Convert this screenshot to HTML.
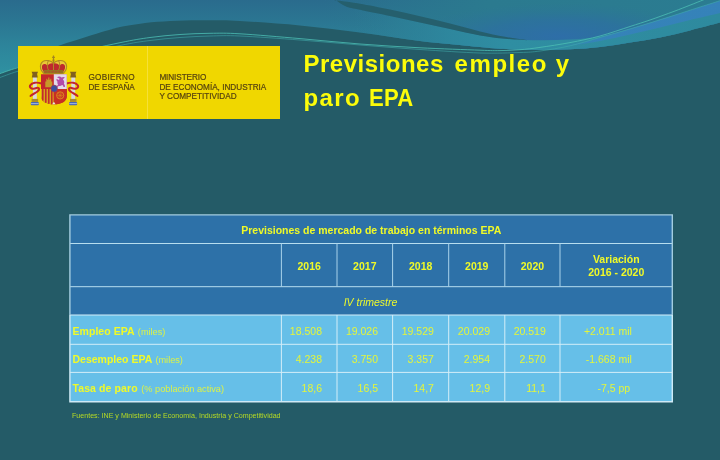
<!DOCTYPE html>
<html lang="es">
<head>
<meta charset="utf-8">
<title>Previsiones empleo y paro EPA</title>
<style>
html,body{margin:0;padding:0;}
body{width:720px;height:460px;overflow:hidden;background:#245b67;font-family:"Liberation Sans",sans-serif;}
#slide{position:relative;width:720px;height:460px;overflow:hidden;background:#245b67;}
#bg{position:absolute;left:0;top:0;width:720px;height:460px;display:block;}
.t{position:absolute;white-space:nowrap;margin:0;padding:0;line-height:1;}
/* logo */
#logo{position:absolute;left:18px;top:46px;width:262px;height:72.5px;background:#f0d700;}
#logo .div{position:absolute;left:129px;top:0;width:1px;height:72.5px;background:#f5e038;}
#logo .lt{position:absolute;white-space:nowrap;color:#57440f;font-size:8.2px;line-height:1;-webkit-text-stroke:0.2px #57440f;}
#arms{position:absolute;left:10px;top:8px;width:52px;height:54px;}
/* title */
h1{position:absolute;left:303.5px;top:46.8px;margin:0;font-size:24px;line-height:34px;font-weight:bold;color:#fcfc0a;white-space:nowrap;}
h1 .l1,h1 .l2{display:block;}
h1 .l1{word-spacing:4.1px;}
h1 .l2{word-spacing:1.4px;}
h1 .epa{display:inline-block;transform-origin:0 50%;transform:scaleX(0.92);letter-spacing:0.2px;}
/* table */
#tbl,#foot,h1,#logo{filter:blur(0.4px);}
#tbl{position:absolute;left:70px;top:215px;width:602.5px;height:187px;color:#e4f53a;font-size:10.5px;}
#tbl .c{position:absolute;white-space:nowrap;line-height:13px;}
#tbl .b{font-weight:bold;color:#f0fa28;}
#tbl .i{font-style:italic;color:#ecf82c;}
#tbl .s{font-size:9.2px;font-weight:normal;color:#dcf246;letter-spacing:0;margin-left:0.6px;}
#tbl .ctr{text-align:center;}
#tbl .r{text-align:right;}
#foot{position:absolute;left:72px;top:411.8px;font-size:7.1px;line-height:9px;color:#b6da24;white-space:nowrap;}
</style>
</head>
<body>
<div id="slide">
<svg id="bg" width="720" height="460" viewBox="0 0 720 460">
  <defs>
    <linearGradient id="gA" gradientUnits="userSpaceOnUse" x1="0" y1="0" x2="0" y2="72">
      <stop offset="0" stop-color="#2a6b8d"/>
      <stop offset="0.3" stop-color="#2b7692"/>
      <stop offset="0.65" stop-color="#2d859b"/>
      <stop offset="1" stop-color="#2f90a1"/>
    </linearGradient>
    <linearGradient id="gTeal" gradientUnits="userSpaceOnUse" x1="0" y1="0" x2="720" y2="0">
      <stop offset="0" stop-color="#2b7a8f" stop-opacity="0"/>
      <stop offset="0.45" stop-color="#2b7a8f" stop-opacity="0"/>
      <stop offset="0.68" stop-color="#2b7a8f" stop-opacity="1"/>
      <stop offset="1" stop-color="#2b7c91" stop-opacity="1"/>
    </linearGradient>
    <radialGradient id="gBlue" gradientUnits="userSpaceOnUse" cx="560" cy="36" r="100" gradientTransform="translate(560 36) scale(1.5 0.33) translate(-560 -36)">
      <stop offset="0" stop-color="#2e6ea8" stop-opacity="1"/>
      <stop offset="0.5" stop-color="#2d6fa2" stop-opacity="0.7"/>
      <stop offset="1" stop-color="#2c7497" stop-opacity="0"/>
    </radialGradient>
    <linearGradient id="gB" gradientUnits="userSpaceOnUse" x1="330" y1="0" x2="720" y2="0">
      <stop offset="0" stop-color="#2d8099" stop-opacity="0"/>
      <stop offset="0.06" stop-color="#2d8099" stop-opacity="0"/>
      <stop offset="0.3" stop-color="#2e889e" stop-opacity="0.9"/>
      <stop offset="0.45" stop-color="#2f8ea2" stop-opacity="1"/>
      <stop offset="1" stop-color="#2e8a9e" stop-opacity="1"/>
    </linearGradient>
    <linearGradient id="gS" gradientUnits="userSpaceOnUse" x1="545" y1="0" x2="720" y2="0">
      <stop offset="0" stop-color="#3583c0" stop-opacity="0"/>
      <stop offset="0.3" stop-color="#3780c0" stop-opacity="0.75"/>
      <stop offset="1" stop-color="#3780c0" stop-opacity="0.8"/>
    </linearGradient>
  </defs>
  <rect width="720" height="460" fill="#245b67"/>
  <g id="waves">
    <path fill="url(#gA)" d="M-10 -10H730V20L730 19.5C728.3 20 726.7 20.8 720 22.6C713.3 24.4 700 27.9 690 30.4C680 32.9 670 35.4 660 37.4C650 39.4 640 40.9 630 42.5C620 44.1 610 45.8 600 46.9C590 48 580 48.8 570 49.3C560 49.8 550 50 540 50C530 50 520 49.8 510 49.3C500 48.8 495 48.4 480 47C465 45.6 440 43.4 420 41C400 38.6 380 35.1 360 32.5C340 29.9 320 27.4 300 25.5C280 23.6 256.7 21.9 240 21C223.3 20.1 211.7 20.2 200 20.2C188.3 20.2 179.2 20.5 170 21C160.8 21.5 153.3 22 145 23C136.7 24 126 25.8 120 27C114 28.2 113.7 28.7 109 30C104.3 31.3 97.7 33.2 92 35C86.3 36.8 80.7 38.7 75 40.5C69.3 42.3 63.8 43.6 58 46C52.2 48.4 46.7 51.5 40 55C33.3 58.5 24.7 63.9 18 67C11.3 70.1 4.7 71.8 0 73.5C-4.7 75.2 -8.3 76.4 -10 77Z"/>
    <path fill="url(#gTeal)" d="M-10 -10H730V20L730 19.5C728.3 20 726.7 20.8 720 22.6C713.3 24.4 700 27.9 690 30.4C680 32.9 670 35.4 660 37.4C650 39.4 640 40.9 630 42.5C620 44.1 610 45.8 600 46.9C590 48 580 48.8 570 49.3C560 49.8 550 50 540 50C530 50 520 49.8 510 49.3C500 48.8 495 48.4 480 47C465 45.6 440 43.4 420 41C400 38.6 380 35.1 360 32.5C340 29.9 320 27.4 300 25.5C280 23.6 256.7 21.9 240 21C223.3 20.1 211.7 20.2 200 20.2C188.3 20.2 179.2 20.5 170 21C160.8 21.5 153.3 22 145 23C136.7 24 126 25.8 120 27C114 28.2 113.7 28.7 109 30C104.3 31.3 97.7 33.2 92 35C86.3 36.8 80.7 38.7 75 40.5C69.3 42.3 63.8 43.6 58 46C52.2 48.4 46.7 51.5 40 55C33.3 58.5 24.7 63.9 18 67C11.3 70.1 4.7 71.8 0 73.5C-4.7 75.2 -8.3 76.4 -10 77Z"/>
    <path fill="url(#gBlue)" d="M-10 -10H730V20L730 19.5C728.3 20 726.7 20.8 720 22.6C713.3 24.4 700 27.9 690 30.4C680 32.9 670 35.4 660 37.4C650 39.4 640 40.9 630 42.5C620 44.1 610 45.8 600 46.9C590 48 580 48.8 570 49.3C560 49.8 550 50 540 50C530 50 520 49.8 510 49.3C500 48.8 495 48.4 480 47C465 45.6 440 43.4 420 41C400 38.6 380 35.1 360 32.5C340 29.9 320 27.4 300 25.5C280 23.6 256.7 21.9 240 21C223.3 20.1 211.7 20.2 200 20.2C188.3 20.2 179.2 20.5 170 21C160.8 21.5 153.3 22 145 23C136.7 24 126 25.8 120 27C114 28.2 113.7 28.7 109 30C104.3 31.3 97.7 33.2 92 35C86.3 36.8 80.7 38.7 75 40.5C69.3 42.3 63.8 43.6 58 46C52.2 48.4 46.7 51.5 40 55C33.3 58.5 24.7 63.9 18 67C11.3 70.1 4.7 71.8 0 73.5C-4.7 75.2 -8.3 76.4 -10 77Z"/>
    <path fill="url(#gB)" d="M333 -2C335 -0.7 340.5 4 345 6C349.5 8 352.5 8.1 360 9.8C367.5 11.5 380 13.9 390 16C400 18.1 410 20.2 420 22.4C430 24.6 440 26.9 450 29C460 31.1 470 33.5 480 35.2C490 36.9 500 38.1 510 39C520 39.9 530 40.2 540 40.3C550 40.4 560 40.2 570 39.6C580 39 589.5 38.4 600 36.5C610.5 34.6 621.8 31.1 633 28C644.2 24.9 655.8 21.1 667 17.6C678.2 14.1 690.8 9.9 700 7C709.2 4.1 717 1.7 722 0C727 -1.7 728.7 -2.5 730 -3L730 19.5C728.3 20 726.7 20.8 720 22.6C713.3 24.4 700 27.9 690 30.4C680 32.9 670 35.4 660 37.4C650 39.4 640 40.9 630 42.5C620 44.1 610 45.8 600 46.9C590 48 580 48.8 570 49.3C560 49.8 550 50 540 50C530 50 520 49.8 510 49.3C500 48.8 495 48.4 480 47C465 45.6 440 43.4 420 41C400 38.6 380 35.1 360 32.5C340 29.9 310 26.7 300 25.5Z"/>
    <path fill="url(#gS)" d="M555 47C558.3 46.5 567.5 45.6 575 44C582.5 42.4 590.3 40.1 600 37.4C609.7 34.7 621.8 31.3 633 28C644.2 24.7 655.8 21.1 667 17.6C678.2 14.1 690.8 9.9 700 7C709.2 4.1 717 1.7 722 0C727 -1.7 728.7 -2.5 730 -3L730 10C728.3 10.5 726.7 11.3 720 13C713.3 14.7 700 17.6 690 20C680 22.4 670 25.1 660 27.5C650 29.9 640 32.2 630 34.5C620 36.8 609.2 39.2 600 41C590.8 42.8 582.5 44 575 45C567.5 46 558.3 46.7 555 47Z"/>
    <path fill="#255f6d" d="M320 -2C324.2 -1.4 338.3 0.6 345 1.6C351.7 2.6 352.5 2.5 360 3.8C367.5 5.1 380 7.5 390 9.6C400 11.7 410 13.9 420 16.2C430 18.5 440 21.1 450 23.6C460 26.1 470.8 29.2 480 31.4C489.2 33.6 496.7 35.3 505 36.8C513.3 38.3 525.8 39.9 530 40.5L530 40.5C525.8 40.2 513.3 39.6 505 38.8C496.7 37.9 489.2 37 480 35.4C470.8 33.8 460 31.2 450 29C440 26.8 430 24.6 420 22.4C410 20.2 400 18.1 390 16C380 13.9 367.5 11.5 360 9.8C352.5 8.1 349.5 8 345 6C340.5 4 335 -0.7 333 -2Z"/>
    <path fill="none" stroke="#4cbdb4" stroke-opacity="0.9" stroke-width="0.9" d="M-5 75C-4.2 74.8 -3.8 74.8 0 73.6C3.8 72.4 8 70.5 18 67.6C28 64.7 43 60.1 60 56C77 51.9 105 45.8 120 42.7C135 39.6 140 38.9 150 37.5C160 36.1 170 35.2 180 34.5C190 33.8 200 33.4 210 33.3C220 33.2 225 32.9 240 33.8C255 34.7 280 36.9 300 38.6C320 40.3 340 42.5 360 44C380 45.5 400 46.8 420 47.8C440 48.8 466.7 49.7 480 50.2C493.3 50.7 493.3 50.7 500 50.6C506.7 50.5 513.3 50.2 520 49.7C526.7 49.2 531.7 48.6 540 47.4C548.3 46.2 560 44.5 570 42.6C580 40.7 590 38.7 600 36C610 33.3 621.7 29.2 630 26.5C638.3 23.8 642.5 22.6 650 20C657.5 17.4 666.2 14.3 675 11C683.8 7.7 696.8 2.5 703 0C709.2 -2.5 710.5 -3.3 712 -4"/>
    <path fill="none" stroke="#41adac" stroke-opacity="0.7" stroke-width="0.8" d="M-5 79C-4.2 78.8 -3.8 78.8 0 77.5C3.8 76.2 8 74.3 18 71.2C28 68.1 43 63.3 60 59C77 54.7 105 48.6 120 45.5C135 42.4 140 41.8 150 40.5C160 39.2 170 38.2 180 37.5C190 36.8 200 36.2 210 36C220 35.8 225 35.3 240 36C255 36.7 280 38.5 300 40C320 41.5 340 43.4 360 45C380 46.6 400 48.2 420 49.5C440 50.8 463.3 52.5 480 53C496.7 53.5 510 52.8 520 52.5C530 52.2 531.7 52.1 540 51C548.3 49.9 560 48.1 570 45.8C580 43.5 589.5 40.4 600 37.4C610.5 34.4 621.8 31.3 633 28C644.2 24.7 655.8 21.1 667 17.6C678.2 14.1 690.8 9.9 700 7C709.2 4.1 717 1.7 722 0C727 -1.7 728.7 -2.5 730 -3"/>
  </g>
  <g id="tablebg">
    <rect x="70" y="215" width="602.5" height="100" fill="#2d71a8"/>
    <rect x="70" y="315" width="602.5" height="86.8" fill="#66bfe8"/>
    <g stroke="#a9d3ea" stroke-width="1" fill="none">
      <path stroke="#b7deef" d="M70 243.5H672.5M70 286.7H672.5"/>
      <path d="M281.4 243.5V286.7M337 243.5V286.7M392.6 243.5V286.7M448.7 243.5V286.7M504.8 243.5V286.7M560 243.5V286.7"/>
    </g>
    <g stroke="#d3eef8" stroke-width="1" fill="none">
      <path d="M70 315H672.5M70 344.3H672.5M70 372.4H672.5"/>
      <path d="M281.4 315V401.8M337 315V401.8M392.6 315V401.8M448.7 315V401.8M504.8 315V401.8M560 315V401.8"/>
    </g>
    <path d="M69.9 315V214.9H672.3V315" fill="none" stroke="#a3cde0" stroke-width="1.4"/>
    <path d="M69.9 315V401.7H672.3V315" fill="none" stroke="#cfeaf6" stroke-width="1.4"/>
  </g>
</svg>
<div id="logo">
  <div class="div"></div>
  <svg id="arms" viewBox="28 54 52 54" width="52" height="54" aria-label="Escudo de España">
    <!-- pillars -->
    <g>
      <rect x="32.9" y="77" width="3.9" height="22.4" fill="#d9d9de"/>
      <rect x="71.3" y="77" width="3.9" height="22.4" fill="#d9d9de"/>
      <path d="M31.6 71.8h6.4l-0.9 2.2 0.7 3.4h-6l0.7-3.4z" fill="#80611f"/>
      <path d="M70 71.8h6.4l-0.9 2.2 0.7 3.4h-6l0.7-3.4z" fill="#80611f"/>
      <rect x="31.6" y="98.9" width="6.5" height="3" fill="#a98c2c"/>
      <rect x="70" y="98.9" width="6.5" height="3" fill="#a98c2c"/>
      <rect x="30.8" y="101.9" width="8" height="3.4" rx="0.8" fill="#4a68b4"/>
      <rect x="69.1" y="101.9" width="8" height="3.4" rx="0.8" fill="#4a68b4"/>
      <path d="M31 103.6h7.6M69.3 103.6h7.6" stroke="#c9d6ee" stroke-width="0.7" fill="none"/>
    </g>
    <!-- ribbons -->
    <g fill="none" stroke="#c4262b" stroke-width="2" stroke-linecap="round">
      <path d="M41.5 83.5C37 82 32 82.5 30 85.5C29 88.5 33 89.5 36.5 88C39.5 87 40 89.5 37.5 91.5C35 93.5 31.5 94.5 30.5 96"/>
      <path d="M66.5 83.5C71 82 76 82.5 78 85.5C79 88.5 75 89.5 71.5 88C68.5 87 68 89.5 70.5 91.5C73 93.5 76.5 94.5 77.5 96"/>
    </g>
    <!-- crown -->
    <g>
      <path d="M43.8 73.6C41.2 70.8 39.7 67 40.8 64.2C42 61.3 45.4 60.2 48.3 60.6C50.4 60.9 52.3 61.8 53.5 63C54.7 61.8 56.6 60.9 58.7 60.6C61.6 60.2 65 61.3 66.2 64.2C67.3 67 65.8 70.8 63.2 73.6Z" fill="#e9c936"/>
      <path d="M44 72C42 69.6 41.2 67 42.4 65C43.6 63.4 46 63.6 47.6 65.6C49 63.6 51.5 62.8 53.5 63.4C55.5 62.8 58 63.6 59.4 65.6C61 63.6 63.4 63.4 64.6 65C65.8 67 65 69.6 63 72Z" fill="#bd2a2d"/>
      <path d="M43.8 73.6C41.2 70.8 39.7 67 40.8 64.2C42 61.3 45.4 60.2 48.3 60.6C50.4 60.9 52.3 61.8 53.5 63C54.7 61.8 56.6 60.9 58.7 60.6C61.6 60.2 65 61.3 66.2 64.2C67.3 67 65.8 70.8 63.2 73.6" fill="none" stroke="#b08a22" stroke-width="1.2"/>
      <path d="M53.5 62.5V70.5M48.3 60.8C46.8 63.8 47 67.5 48.6 70.5M58.7 60.8C60.2 63.8 60 67.5 58.4 70.5" fill="none" stroke="#b08a22" stroke-width="1"/>
      <rect x="43.6" y="69.9" width="19.8" height="3.8" rx="0.9" fill="#937222"/>
      <path d="M45 71.8H62" stroke="#c33a2c" stroke-width="0.9" stroke-dasharray="1.6 1.8" fill="none"/>
      <path d="M53.5 55.6V62.6M52.1 57.3H54.9" stroke="#a4851f" stroke-width="1.2" fill="none"/>
      <circle cx="53.5" cy="60.3" r="1.1" fill="#a4851f"/>
    </g>
    <!-- shield -->
    <g>
      <path d="M41 74.2H66.8V96C66.8 101.5 61.5 104.3 53.9 104.3C46.3 104.3 41 101.5 41 96Z" fill="#c3272c"/>
      <path d="M53.8 74.2H66.8V89H53.8Z" fill="#e3dbe9"/>
      <path d="M41 89H53.8V104.3C46.3 104.3 41 101.5 41 96Z" fill="#d8a51c"/>
      <path d="M42.8 89V100.6M45.8 89V102.8M48.8 89V103.8M51.8 89V104.2" stroke="#c3272c" stroke-width="1.5" fill="none"/>
      <path d="M53.8 89H66.8V96C66.8 101.5 61.5 104.3 53.9 104.3Z" fill="#c82f24"/>
      <circle cx="60.2" cy="95.4" r="3.6" fill="none" stroke="#d9861f" stroke-width="1"/>
      <path d="M56.6 95.4H63.8M60.2 91.8V99M57.7 92.9L62.7 97.9M62.7 92.9L57.7 97.9" stroke="#d9861f" stroke-width="0.6" fill="none"/>
      <!-- castle -->
      <path d="M45.3 87.2V81.5h1v-2.7h0.9v1h1v-2.2h1.2v2.2h1v-1h0.9v2.7h1v5.7z" fill="#c79a28"/>
      <!-- lion -->
      <path d="M57 77.2c1.5-1.2 3.5-1 4.6 0.3c1.2-0.9 2.7-0.8 3.4 0.3c-1.1 0.3-1.8 1-2 2c1.3 0.9 1.6 2.7 0.9 4.2c0.9 0.7 1.3 1.8 1 2.9h-1.5c0-0.9-0.5-1.5-1.3-1.8c-0.9 0.9-2.2 1.2-3.5 0.9c-0.3 0.6-0.9 0.9-1.7 0.9c0.1-1 0.5-1.8 1.2-2.3c-0.7-0.9-0.9-2-0.5-3.1c-0.9-0.5-1.3-1.5-1.1-2.6c0.8 0.1 1.4 0.5 1.8 1.1c0.4-0.5 0.9-0.9 1.5-1.1c-0.8-0.7-1.8-1.2-2.8-1.7z" fill="#b24aa8"/>
      <ellipse cx="54.2" cy="88.6" rx="3.3" ry="3.5" fill="#3c4f9f"/>
      <ellipse cx="54.2" cy="88.6" rx="3.3" ry="3.5" fill="none" stroke="#b23a4a" stroke-width="0.6"/>
      <path d="M52.3 104.2L53.9 101.8L55.5 104.2Z" fill="#e8e8e0"/>
    </g>
  </svg>
  <div class="lt" style="left:70.4px;top:28.3px;letter-spacing:0.3px">GOBIERNO</div>
  <div class="lt" style="left:70.4px;top:37.9px;letter-spacing:0.02px">DE ESPAÑA</div>
  <div class="lt" style="left:141.4px;top:28.3px;letter-spacing:-0.1px">MINISTERIO</div>
  <div class="lt" style="left:141.4px;top:37.7px;">DE ECONOMÍA, INDUSTRIA</div>
  <div class="lt" style="left:141.4px;top:46.8px;">Y COMPETITIVIDAD</div>
</div>
<h1><span class="l1"><span style="letter-spacing:0.5px">Previsiones</span> <span style="letter-spacing:1.58px">empleo</span> <span style="margin-left:-3.2px">y</span></span><span class="l2"><span style="letter-spacing:1.4px">paro</span> <span class="epa">EPA</span></span></h1>
<div id="tbl">
  <div class="c b ctr" style="left:0;width:602.5px;top:9px">Previsiones de mercado de trabajo en términos EPA</div>
  <div class="c b ctr" style="left:211.4px;width:55.6px;top:44.8px">2016</div>
  <div class="c b ctr" style="left:267px;width:55.6px;top:44.8px">2017</div>
  <div class="c b ctr" style="left:322.6px;width:56.1px;top:44.8px">2018</div>
  <div class="c b ctr" style="left:378.7px;width:56.1px;top:44.8px">2019</div>
  <div class="c b ctr" style="left:434.8px;width:55.2px;top:44.8px">2020</div>
  <div class="c b ctr" style="left:490px;width:112.5px;top:38px">Variación<br>2016 - 2020</div>
  <div class="c i ctr" style="left:0;width:601px;top:81px">IV trimestre</div>

  <div class="c b" style="left:2.5px;top:110px;letter-spacing:0.05px">Empleo EPA <span class="s">(miles)</span></div>
  <div class="c r" style="left:211.4px;width:40.6px;top:110px">18.508</div>
  <div class="c r" style="left:267px;width:41px;top:110px">19.026</div>
  <div class="c r" style="left:322.6px;width:41.3px;top:110px">19.529</div>
  <div class="c r" style="left:378.7px;width:41.3px;top:110px">20.029</div>
  <div class="c r" style="left:434.8px;width:41px;top:110px">20.519</div>
  <div class="c r" style="left:490px;width:71.9px;top:110px">+2.011 mil</div>

  <div class="c b" style="left:2.5px;top:138.3px">Desempleo EPA <span class="s">(miles)</span></div>
  <div class="c r" style="left:211.4px;width:40.6px;top:138.3px">4.238</div>
  <div class="c r" style="left:267px;width:41px;top:138.3px">3.750</div>
  <div class="c r" style="left:322.6px;width:41.3px;top:138.3px">3.357</div>
  <div class="c r" style="left:378.7px;width:41.3px;top:138.3px">2.954</div>
  <div class="c r" style="left:434.8px;width:41px;top:138.3px">2.570</div>
  <div class="c r" style="left:490px;width:71.9px;top:138.3px">-1.668 mil</div>

  <div class="c b" style="left:2.5px;top:167px;letter-spacing:0.1px">Tasa de paro <span class="s">(% población activa)</span></div>
  <div class="c r" style="left:211.4px;width:40.6px;top:167px">18,6</div>
  <div class="c r" style="left:267px;width:41px;top:167px">16,5</div>
  <div class="c r" style="left:322.6px;width:41.3px;top:167px">14,7</div>
  <div class="c r" style="left:378.7px;width:41.3px;top:167px">12,9</div>
  <div class="c r" style="left:434.8px;width:41px;top:167px">11,1</div>
  <div class="c r" style="left:490px;width:70.2px;top:167px">-7,5 pp</div>
</div>
<div id="foot">Fuentes: INE y Ministerio de Economía, Industria y Competitividad</div>
</div>
</body>
</html>
